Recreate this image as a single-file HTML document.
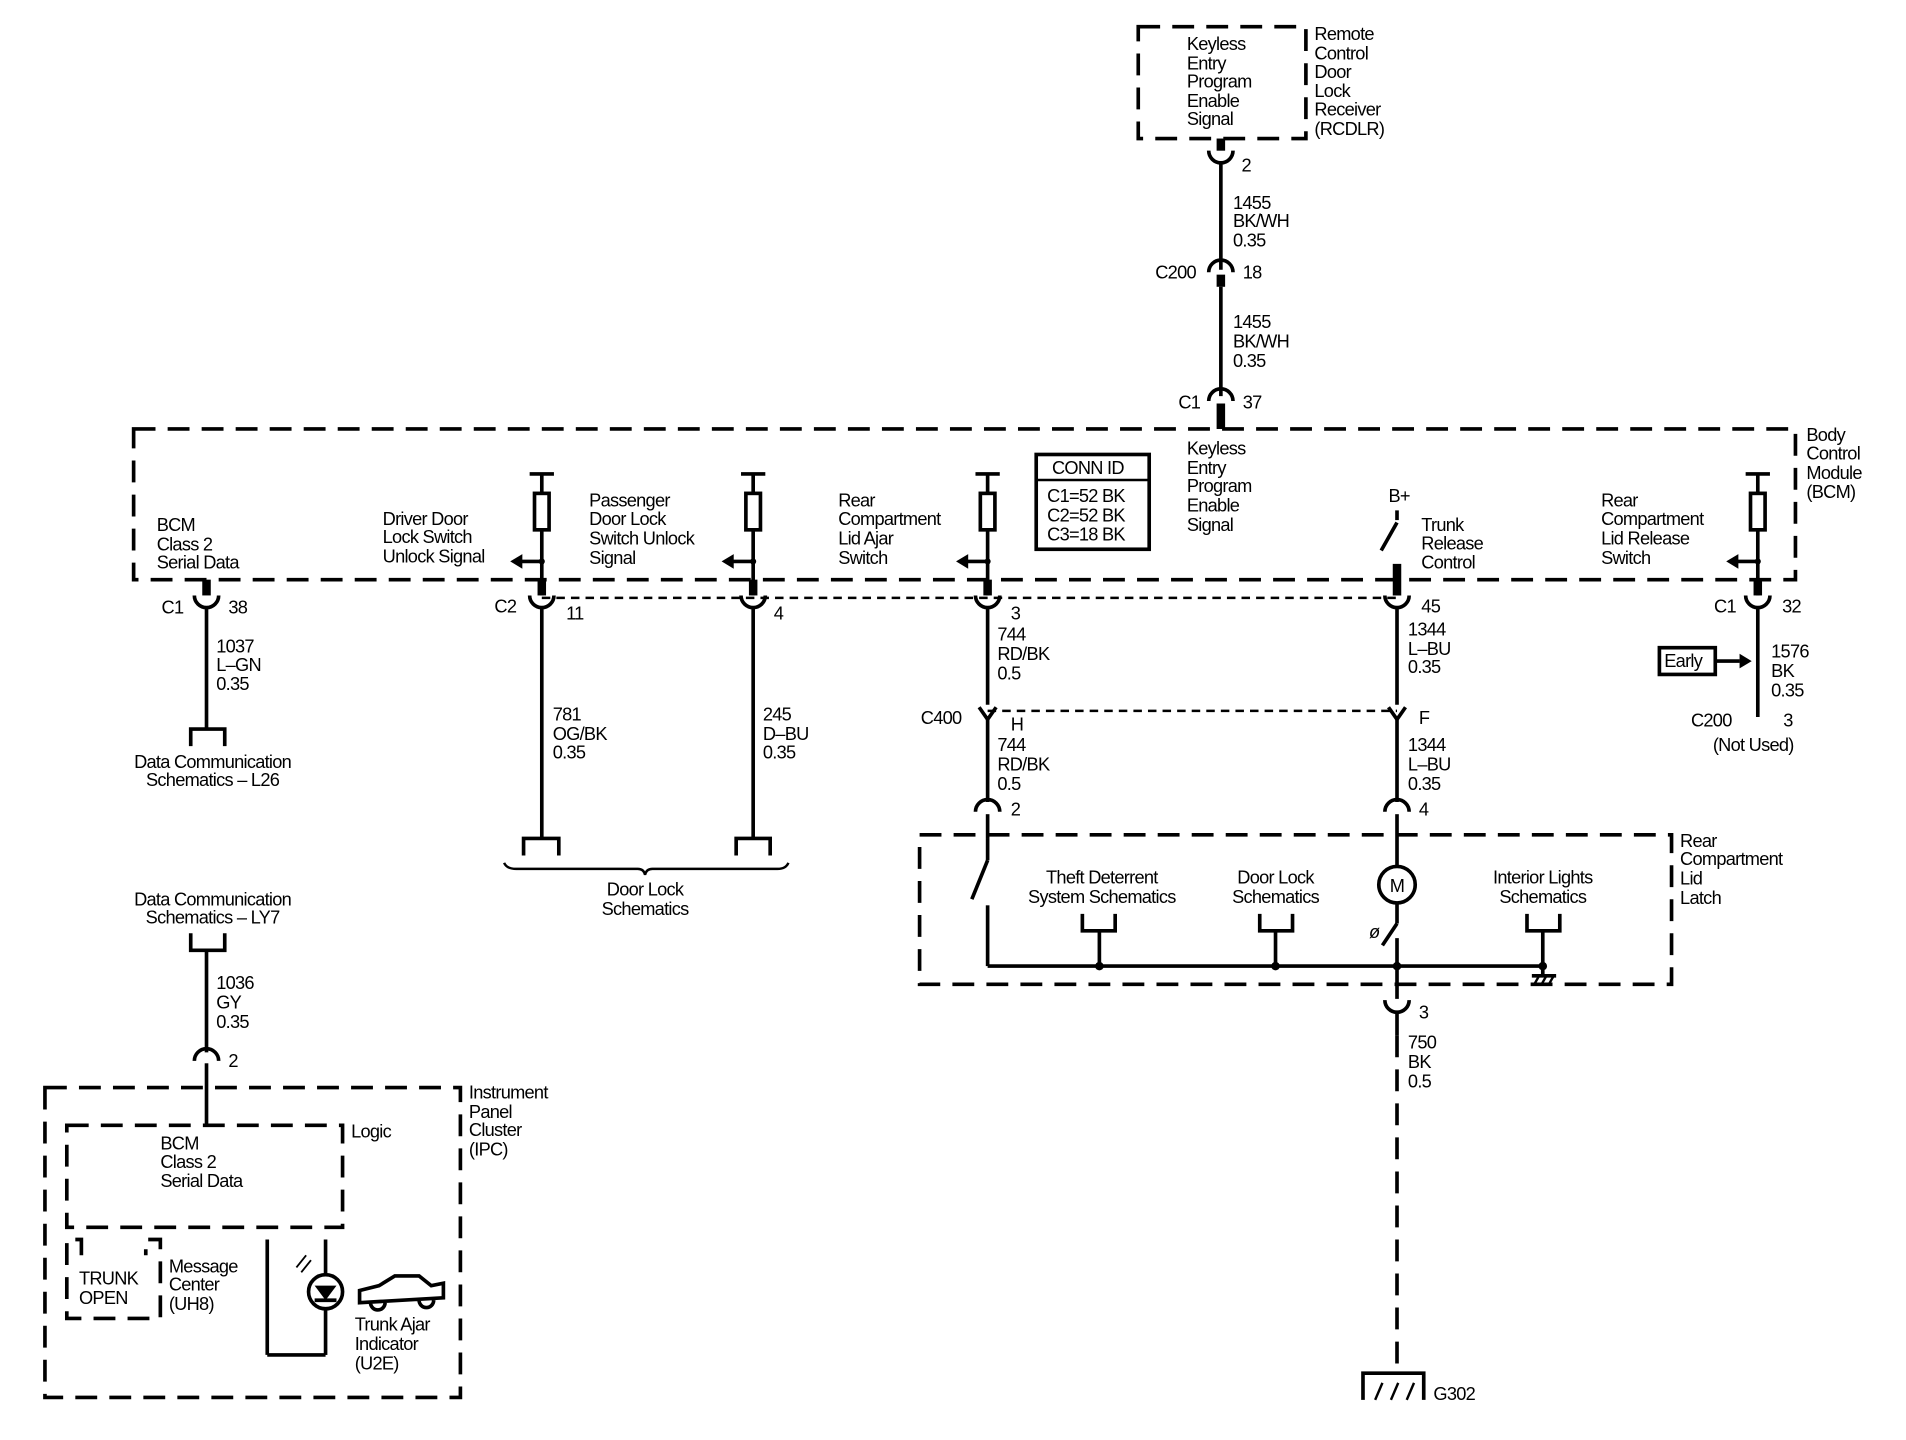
<!DOCTYPE html>
<html><head><style>
html,body{margin:0;padding:0;background:#fff;}
svg{display:block;}
text{font-family:"Liberation Sans",sans-serif;font-size:15px;fill:#000;letter-spacing:-0.6px;}
.w{stroke:#000;stroke-width:3;fill:none;}
.d{stroke:#000;stroke-width:3;fill:none;stroke-dasharray:18 10;}
.t{stroke:#000;stroke-width:2;fill:none;stroke-dasharray:7 5;}
.s{stroke:#000;stroke-width:7;fill:none;}
</style></head><body>
<svg width="1906" height="1440" viewBox="0 0 1569 1185" preserveAspectRatio="none" xmlns="http://www.w3.org/2000/svg">
<defs>
<g id="fcup"><path d="M-10,-4 A10,10 0 0 0 10,-4" class="w"/></g>
<g id="mcup"><path d="M-10,4 A10,10 0 0 1 10,4" class="w"/></g>
</defs>

<!-- RCDLR -->
<rect x="937" y="22" width="138" height="92" class="d"/>
<text x="977" y="41">Keyless</text><text x="977" y="57">Entry</text><text x="977" y="72">Program</text><text x="977" y="88">Enable</text><text x="977" y="103">Signal</text>
<text x="1082" y="33">Remote</text><text x="1082" y="49">Control</text><text x="1082" y="64">Door</text><text x="1082" y="80">Lock</text><text x="1082" y="95">Receiver</text><text x="1082" y="111">(RCDLR)</text>
<line x1="1005" y1="114" x2="1005" y2="124" class="s"/>
<use href="#fcup" x="1005" y="128"/>
<line x1="1005" y1="134" x2="1005" y2="222" class="w"/>
<text x="1022" y="141">2</text>
<text x="1015" y="172">1455</text><text x="1015" y="187">BK/WH</text><text x="1015" y="203">0.35</text>
<use href="#mcup" x="1005" y="220"/>
<line x1="1005" y1="226" x2="1005" y2="236" class="s"/>
<line x1="1005" y1="236" x2="1005" y2="326" class="w"/>
<text x="951" y="229">C200</text><text x="1023" y="229">18</text>
<text x="1015" y="270">1455</text><text x="1015" y="286">BK/WH</text><text x="1015" y="302">0.35</text>
<use href="#mcup" x="1005" y="326"/>
<line x1="1005" y1="332" x2="1005" y2="353" class="s"/>
<text x="970" y="336">C1</text><text x="1023" y="336">37</text>

<!-- BCM -->
<rect x="110" y="353" width="1368" height="124" class="d"/>
<text x="1487" y="363">Body</text><text x="1487" y="378">Control</text><text x="1487" y="394">Module</text><text x="1487" y="410">(BCM)</text>
<text x="977" y="374">Keyless</text><text x="977" y="390">Entry</text><text x="977" y="405">Program</text><text x="977" y="421">Enable</text><text x="977" y="437">Signal</text>
<rect x="853" y="374" width="93" height="78" stroke="#000" stroke-width="3" fill="none"/>
<line x1="853" y1="395" x2="946" y2="395" stroke="#000" stroke-width="2"/>
<text x="866" y="390">CONN ID</text><text x="862" y="413">C1=52 BK</text><text x="862" y="429">C2=52 BK</text><text x="862" y="445">C3=18 BK</text>

<!-- BCM class 2 -->
<text x="129" y="437">BCM</text><text x="129" y="453">Class 2</text><text x="129" y="468">Serial Data</text>
<line x1="170" y1="477" x2="170" y2="490" class="s"/>
<use href="#fcup" x="170" y="494"/>
<line x1="170" y1="500" x2="170" y2="600" class="w"/>
<text x="133" y="505">C1</text><text x="188" y="505">38</text>
<text x="178" y="537">1037</text><text x="178" y="552">L–GN</text><text x="178" y="568">0.35</text>
<path d="M157,614 V600 H185 V614" class="w"/>
<text x="175" y="632" text-anchor="middle">Data Communication</text><text x="175" y="647" text-anchor="middle">Schematics – L26</text>

<!-- Driver door -->
<line x1="436" y1="390" x2="456" y2="390" class="w"/><line x1="446" y1="390" x2="446" y2="406" class="w"/>
<rect x="440" y="406" width="12" height="30" class="w"/>
<line x1="446" y1="436" x2="446" y2="490" class="w"/>
<line x1="446" y1="462" x2="428" y2="462" class="w"/><path d="M420,462 L430,456 L430,468 Z"/>
<circle cx="446" cy="462" r="2.5"/>
<text x="315" y="432">Driver Door</text><text x="315" y="447">Lock Switch</text><text x="315" y="463">Unlock Signal</text>
<line x1="446" y1="477" x2="446" y2="490" class="s"/>
<use href="#fcup" x="446" y="494"/>
<line x1="446" y1="500" x2="446" y2="690" class="w"/>
<text x="407" y="504">C2</text><text x="466" y="510">11</text>
<text x="455" y="593">781</text><text x="455" y="609">OG/BK</text><text x="455" y="624">0.35</text>
<path d="M431,704 V690 H460 V704" class="w"/>

<!-- Passenger -->
<line x1="610" y1="390" x2="630" y2="390" class="w"/><line x1="620" y1="390" x2="620" y2="406" class="w"/>
<rect x="614" y="406" width="12" height="30" class="w"/>
<line x1="620" y1="436" x2="620" y2="490" class="w"/>
<line x1="620" y1="462" x2="602" y2="462" class="w"/><path d="M594,462 L604,456 L604,468 Z"/>
<circle cx="620" cy="462" r="2.5"/>
<text x="485" y="417">Passenger</text><text x="485" y="432">Door Lock</text><text x="485" y="448">Switch Unlock</text><text x="485" y="464">Signal</text>
<line x1="620" y1="477" x2="620" y2="490" class="s"/>
<use href="#fcup" x="620" y="494"/>
<line x1="620" y1="500" x2="620" y2="690" class="w"/>
<text x="637" y="510">4</text>
<text x="628" y="593">245</text><text x="628" y="609">D–BU</text><text x="628" y="624">0.35</text>
<path d="M606,704 V690 H634 V704" class="w"/>
<path d="M415,710 Q417,715 425,715 H525 Q530,715 531,720 Q532,715 537,715 H640 Q647,715 649,710" stroke="#000" stroke-width="2" fill="none"/>
<text x="531" y="737" text-anchor="middle">Door Lock</text><text x="531" y="753" text-anchor="middle">Schematics</text>

<line x1="446" y1="492" x2="1150" y2="492" class="t"/>

<!-- Rear compartment lid ajar -->
<line x1="803" y1="390" x2="823" y2="390" class="w"/><line x1="813" y1="390" x2="813" y2="406" class="w"/>
<rect x="807" y="406" width="12" height="30" class="w"/>
<line x1="813" y1="436" x2="813" y2="490" class="w"/>
<line x1="813" y1="462" x2="795" y2="462" class="w"/><path d="M787,462 L797,456 L797,468 Z"/>
<circle cx="813" cy="462" r="2.5"/>
<text x="690" y="417">Rear</text><text x="690" y="432">Compartment</text><text x="690" y="448">Lid Ajar</text><text x="690" y="464">Switch</text>
<line x1="813" y1="477" x2="813" y2="490" class="s"/>
<use href="#fcup" x="813" y="494"/>
<line x1="813" y1="500" x2="813" y2="580" class="w"/>
<text x="832" y="510">3</text>
<text x="821" y="527">744</text><text x="821" y="543">RD/BK</text><text x="821" y="559">0.5</text>
<path d="M806,582 L813,592 L820,582" class="w"/>
<line x1="813" y1="592" x2="813" y2="660" class="w"/>
<text x="758" y="596">C400</text><text x="832" y="601">H</text>
<text x="821" y="618">744</text><text x="821" y="634">RD/BK</text><text x="821" y="650">0.5</text>
<use href="#mcup" x="813" y="664"/>
<line x1="813" y1="670" x2="813" y2="690" class="w"/>
<text x="832" y="671">2</text>
<line x1="813" y1="690" x2="813" y2="708" class="w"/>
<line x1="813" y1="708" x2="800" y2="740" class="w"/>
<line x1="813" y1="745" x2="813" y2="795" class="w"/>
<line x1="813" y1="585" x2="1150" y2="585" class="t"/>

<!-- Trunk -->
<text x="1143" y="413">B+</text>
<line x1="1150" y1="420" x2="1150" y2="428" class="w"/>
<line x1="1150" y1="430" x2="1137" y2="453" class="w"/>
<text x="1170" y="437">Trunk</text><text x="1170" y="452">Release</text><text x="1170" y="468">Control</text>
<line x1="1150" y1="464" x2="1150" y2="490" class="s"/>
<use href="#fcup" x="1150" y="494"/>
<line x1="1150" y1="500" x2="1150" y2="580" class="w"/>
<text x="1170" y="504">45</text>
<text x="1159" y="523">1344</text><text x="1159" y="539">L–BU</text><text x="1159" y="554">0.35</text>
<path d="M1143,582 L1150,592 L1157,582" class="w"/>
<line x1="1150" y1="592" x2="1150" y2="660" class="w"/>
<text x="1168" y="596">F</text>
<text x="1159" y="618">1344</text><text x="1159" y="634">L–BU</text><text x="1159" y="650">0.35</text>
<use href="#mcup" x="1150" y="664"/>
<line x1="1150" y1="670" x2="1150" y2="713" class="w"/>
<text x="1168" y="671">4</text>
<circle cx="1150" cy="728" r="15" class="w"/>
<text x="1144" y="734">M</text>
<line x1="1150" y1="743" x2="1150" y2="760" class="w"/>
<line x1="1150" y1="760" x2="1138" y2="778" class="w"/>
<text x="1127" y="772" font-style="italic">ø</text>
<line x1="1150" y1="772" x2="1150" y2="822" class="w"/>
<use href="#fcup" x="1150" y="827"/>
<line x1="1150" y1="833" x2="1150" y2="852" class="w"/>
<text x="1168" y="838">3</text>
<text x="1159" y="863">750</text><text x="1159" y="879">BK</text><text x="1159" y="895">0.5</text>
<line x1="1150" y1="852" x2="1150" y2="1130" class="d"/>
<path d="M1122,1152 V1130 H1172 V1152" class="w"/>
<line x1="1132" y1="1152" x2="1138" y2="1138" stroke="#000" stroke-width="2"/>
<line x1="1145" y1="1152" x2="1151" y2="1138" stroke="#000" stroke-width="2"/>
<line x1="1158" y1="1152" x2="1164" y2="1138" stroke="#000" stroke-width="2"/>
<text x="1180" y="1152">G302</text>

<!-- Rear lid release -->
<line x1="1437" y1="390" x2="1457" y2="390" class="w"/><line x1="1447" y1="390" x2="1447" y2="406" class="w"/>
<rect x="1441" y="406" width="12" height="30" class="w"/>
<line x1="1447" y1="436" x2="1447" y2="490" class="w"/>
<line x1="1447" y1="462" x2="1429" y2="462" class="w"/><path d="M1421,462 L1431,456 L1431,468 Z"/>
<circle cx="1447" cy="462" r="2.5"/>
<text x="1318" y="417">Rear</text><text x="1318" y="432">Compartment</text><text x="1318" y="448">Lid Release</text><text x="1318" y="464">Switch</text>
<line x1="1447" y1="477" x2="1447" y2="490" class="s"/>
<use href="#fcup" x="1447" y="494"/>
<line x1="1447" y1="500" x2="1447" y2="590" class="w"/>
<text x="1411" y="504">C1</text><text x="1467" y="504">32</text>
<rect x="1366" y="533" width="46" height="22" class="w"/><text x="1370" y="549">Early</text>
<line x1="1412" y1="544" x2="1432" y2="544" class="w"/><path d="M1442,544 L1432,538 L1432,550 Z"/>
<text x="1458" y="541">1576</text><text x="1458" y="557">BK</text><text x="1458" y="573">0.35</text>
<text x="1392" y="598">C200</text><text x="1468" y="598">3</text><text x="1410" y="618">(Not Used)</text>

<!-- Latch -->
<rect x="757" y="687" width="619" height="123" class="d"/>
<text x="1383" y="697">Rear</text><text x="1383" y="712">Compartment</text><text x="1383" y="728">Lid</text><text x="1383" y="744">Latch</text>
<line x1="813" y1="795" x2="1270" y2="795" class="w"/>
<text x="907" y="727" text-anchor="middle">Theft Deterrent</text><text x="907" y="743" text-anchor="middle">System Schematics</text>
<path d="M891,752 V766 H918 V752" class="w"/><line x1="905" y1="766" x2="905" y2="795" class="w"/><circle cx="905" cy="795" r="3.5"/>
<text x="1050" y="727" text-anchor="middle">Door Lock</text><text x="1050" y="743" text-anchor="middle">Schematics</text>
<path d="M1037,752 V766 H1064 V752" class="w"/><line x1="1050" y1="766" x2="1050" y2="795" class="w"/><circle cx="1050" cy="795" r="3.5"/>
<circle cx="1150" cy="795" r="3.5"/>
<text x="1270" y="727" text-anchor="middle">Interior Lights</text><text x="1270" y="743" text-anchor="middle">Schematics</text>
<path d="M1257,752 V766 H1284 V752" class="w"/><line x1="1270" y1="766" x2="1270" y2="803" class="w"/><circle cx="1270" cy="795" r="3.5"/>
<line x1="1261" y1="803" x2="1281" y2="803" class="w"/>
<line x1="1263" y1="810" x2="1267" y2="803" stroke="#000" stroke-width="2"/><line x1="1269" y1="810" x2="1273" y2="803" stroke="#000" stroke-width="2"/><line x1="1275" y1="810" x2="1279" y2="803" stroke="#000" stroke-width="2"/>

<!-- IPC -->
<text x="175" y="745" text-anchor="middle">Data Communication</text><text x="175" y="760" text-anchor="middle">Schematics – LY7</text>
<path d="M157,768 V782 H185 V768" class="w"/>
<line x1="170" y1="782" x2="170" y2="866" class="w"/>
<text x="178" y="814">1036</text><text x="178" y="830">GY</text><text x="178" y="846">0.35</text>
<use href="#mcup" x="170" y="869"/>
<line x1="170" y1="875" x2="170" y2="926" class="w"/>
<text x="188" y="878">2</text>
<rect x="37" y="895" width="342" height="255" class="d"/>
<text x="386" y="904">Instrument</text><text x="386" y="920">Panel</text><text x="386" y="935">Cluster</text><text x="386" y="951">(IPC)</text>
<path d="M55,926 H282 V1010 H55 Z" class="d"/>
<text x="289" y="936">Logic</text>
<text x="132" y="946">BCM</text><text x="132" y="961">Class 2</text><text x="132" y="977">Serial Data</text>
<path d="M67,1033 V1020 H55 V1085 H132 V1020 H120 V1033" class="d"/>
<text x="65" y="1057">TRUNK</text><text x="65" y="1073">OPEN</text>
<text x="139" y="1047">Message</text><text x="139" y="1062">Center</text><text x="139" y="1078">(UH8)</text>
<line x1="220" y1="1020" x2="220" y2="1115" class="w"/>
<line x1="220" y1="1115" x2="268" y2="1115" class="w"/>
<line x1="268" y1="1115" x2="268" y2="1077" class="w"/>
<line x1="268" y1="1049" x2="268" y2="1020" class="w"/>
<circle cx="268" cy="1063" r="14" class="w"/>
<path d="M259,1058 H277 L268,1070 Z"/><line x1="259" y1="1070" x2="277" y2="1070" class="w"/>
<line x1="248" y1="1047" x2="256" y2="1037" stroke="#000" stroke-width="1.5"/><line x1="244" y1="1043" x2="252" y2="1033" stroke="#000" stroke-width="1.5"/>
<path d="M296,1072 L296,1062 L312,1058 L325,1050 L345,1050 L355,1058 L365,1056 L365,1068 L296,1072 Z M305,1072 a6,6 0 0 0 12,0 M345,1070 a6,6 0 0 0 12,0" class="w" stroke-width="2"/>
<text x="292" y="1095">Trunk Ajar</text><text x="292" y="1111">Indicator</text><text x="292" y="1127">(U2E)</text>
</svg>
</body></html>
